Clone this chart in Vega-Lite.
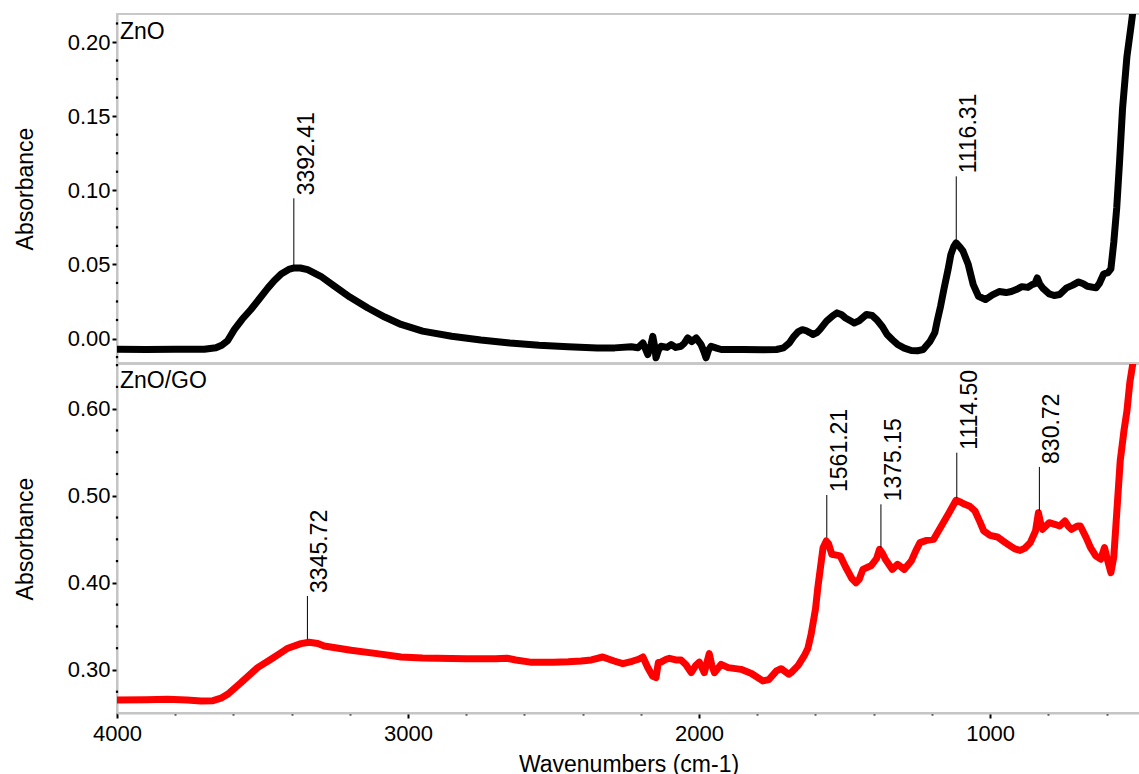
{
  "$schema": "https://vega.github.io/schema/vega-lite/v6.json",
  "padding": {"left": 13, "top": 13, "right": 0, "bottom": 0},
  "background": "white",
  "spacing": 1,
  "bounds": "flush",
  "config": {
    "font": "Liberation Sans",
    "view": {"stroke": "#c8c8c8", "strokeWidth": 2},
    "axis": {
      "domainColor": "#c4c4c4", "domainWidth": 2, "tickColor": "black", "tickWidth": 2,
      "labelColor": "black", "titleColor": "black", "labelFont": "Liberation Sans", "titleFont": "Liberation Sans",
      "labelFontSize": 22, "titleFontSize": 23, "titleFontWeight": "normal", "grid": false, "labelOverlap": false
    }
  },
  "datasets": {
    "zno": [
      {"wn": 4000, "v": -0.0072}, {"wn": 3900, "v": -0.0074}, {"wn": 3800, "v": -0.0073}, {"wn": 3700, "v": -0.0072},
      {"wn": 3660, "v": -0.0062}, {"wn": 3640, "v": -0.0045}, {"wn": 3620, "v": -0.0015}, {"wn": 3597, "v": 0.006},
      {"wn": 3570, "v": 0.013}, {"wn": 3540, "v": 0.0196}, {"wn": 3510, "v": 0.027}, {"wn": 3482, "v": 0.034},
      {"wn": 3460, "v": 0.039}, {"wn": 3436, "v": 0.0436}, {"wn": 3410, "v": 0.0466}, {"wn": 3391, "v": 0.0476},
      {"wn": 3370, "v": 0.0476}, {"wn": 3345, "v": 0.0465}, {"wn": 3300, "v": 0.042}, {"wn": 3253, "v": 0.0353},
      {"wn": 3200, "v": 0.028}, {"wn": 3138, "v": 0.0206}, {"wn": 3080, "v": 0.0145}, {"wn": 3024, "v": 0.0095},
      {"wn": 2950, "v": 0.005}, {"wn": 2850, "v": 0.0015}, {"wn": 2750, "v": -0.001}, {"wn": 2650, "v": -0.003},
      {"wn": 2550, "v": -0.0045}, {"wn": 2450, "v": -0.0055}, {"wn": 2350, "v": -0.0063}, {"wn": 2290, "v": -0.0063},
      {"wn": 2233, "v": -0.0055}, {"wn": 2210, "v": -0.0062}, {"wn": 2193, "v": -0.003}, {"wn": 2176, "v": -0.0108},
      {"wn": 2165, "v": -0.004}, {"wn": 2159, "v": 0.0015}, {"wn": 2152, "v": -0.006}, {"wn": 2148, "v": -0.013},
      {"wn": 2140, "v": -0.008}, {"wn": 2131, "v": -0.0052}, {"wn": 2110, "v": -0.006}, {"wn": 2096, "v": -0.0041},
      {"wn": 2080, "v": -0.006}, {"wn": 2062, "v": -0.0052}, {"wn": 2050, "v": -0.003}, {"wn": 2039, "v": 0.0004},
      {"wn": 2025, "v": -0.002}, {"wn": 2010, "v": 0.0004}, {"wn": 1993, "v": -0.0041}, {"wn": 1983, "v": -0.009},
      {"wn": 1976, "v": -0.013}, {"wn": 1968, "v": -0.008}, {"wn": 1959, "v": -0.0052}, {"wn": 1940, "v": -0.0065},
      {"wn": 1924, "v": -0.0074}, {"wn": 1850, "v": -0.0074}, {"wn": 1780, "v": -0.0075}, {"wn": 1734, "v": -0.0074},
      {"wn": 1710, "v": -0.0063}, {"wn": 1690, "v": -0.003}, {"wn": 1674, "v": 0.0015}, {"wn": 1660, "v": 0.0045},
      {"wn": 1645, "v": 0.006}, {"wn": 1633, "v": 0.0054}, {"wn": 1620, "v": 0.004}, {"wn": 1609, "v": 0.0027},
      {"wn": 1595, "v": 0.004}, {"wn": 1585, "v": 0.006}, {"wn": 1562, "v": 0.0117}, {"wn": 1540, "v": 0.0155},
      {"wn": 1526, "v": 0.0173}, {"wn": 1510, "v": 0.016}, {"wn": 1497, "v": 0.0139}, {"wn": 1480, "v": 0.012},
      {"wn": 1467, "v": 0.0105}, {"wn": 1450, "v": 0.012}, {"wn": 1425, "v": 0.0162}, {"wn": 1405, "v": 0.0155},
      {"wn": 1390, "v": 0.0128}, {"wn": 1370, "v": 0.008}, {"wn": 1354, "v": 0.0027}, {"wn": 1335, "v": -0.001},
      {"wn": 1318, "v": -0.004}, {"wn": 1295, "v": -0.0065}, {"wn": 1271, "v": -0.0081}, {"wn": 1250, "v": -0.0083},
      {"wn": 1230, "v": -0.0074}, {"wn": 1206, "v": -0.0018}, {"wn": 1190, "v": 0.004}, {"wn": 1182, "v": 0.0117},
      {"wn": 1170, "v": 0.022}, {"wn": 1158, "v": 0.034}, {"wn": 1145, "v": 0.046}, {"wn": 1135, "v": 0.0566},
      {"wn": 1125, "v": 0.062}, {"wn": 1117, "v": 0.0645}, {"wn": 1105, "v": 0.062}, {"wn": 1093, "v": 0.0589},
      {"wn": 1075, "v": 0.0499}, {"wn": 1058, "v": 0.0364}, {"wn": 1040, "v": 0.0285}, {"wn": 1016, "v": 0.0263},
      {"wn": 992, "v": 0.0295}, {"wn": 969, "v": 0.0317}, {"wn": 945, "v": 0.031}, {"wn": 927, "v": 0.0317},
      {"wn": 910, "v": 0.033}, {"wn": 891, "v": 0.035}, {"wn": 870, "v": 0.0345}, {"wn": 856, "v": 0.0364},
      {"wn": 846, "v": 0.037}, {"wn": 838, "v": 0.0409}, {"wn": 830, "v": 0.037}, {"wn": 820, "v": 0.0342},
      {"wn": 797, "v": 0.0301}, {"wn": 780, "v": 0.029}, {"wn": 761, "v": 0.0297}, {"wn": 737, "v": 0.0342},
      {"wn": 716, "v": 0.036}, {"wn": 696, "v": 0.0382}, {"wn": 680, "v": 0.037}, {"wn": 666, "v": 0.0353},
      {"wn": 636, "v": 0.0342}, {"wn": 625, "v": 0.037}, {"wn": 610, "v": 0.0435}, {"wn": 595, "v": 0.0445},
      {"wn": 585, "v": 0.047}, {"wn": 575, "v": 0.065}, {"wn": 565, "v": 0.088}, {"wn": 555, "v": 0.12},
      {"wn": 545, "v": 0.155}, {"wn": 530, "v": 0.19}, {"wn": 515, "v": 0.212}, {"wn": 500, "v": 0.235}
    ],
    "zno_go": [
      {"wn": 4000, "v": 0.2655}, {"wn": 3900, "v": 0.2658}, {"wn": 3826, "v": 0.2663}, {"wn": 3760, "v": 0.2655},
      {"wn": 3711, "v": 0.2644}, {"wn": 3670, "v": 0.2648}, {"wn": 3640, "v": 0.268}, {"wn": 3620, "v": 0.2721},
      {"wn": 3574, "v": 0.2854}, {"wn": 3517, "v": 0.3027}, {"wn": 3471, "v": 0.3123}, {"wn": 3440, "v": 0.319},
      {"wn": 3413, "v": 0.325}, {"wn": 3368, "v": 0.3302}, {"wn": 3340, "v": 0.3318}, {"wn": 3310, "v": 0.3305},
      {"wn": 3288, "v": 0.3276}, {"wn": 3250, "v": 0.3255}, {"wn": 3196, "v": 0.3226}, {"wn": 3100, "v": 0.3185},
      {"wn": 3024, "v": 0.3149}, {"wn": 2950, "v": 0.3138}, {"wn": 2900, "v": 0.3135}, {"wn": 2800, "v": 0.3128},
      {"wn": 2700, "v": 0.3128}, {"wn": 2660, "v": 0.3135}, {"wn": 2630, "v": 0.3115}, {"wn": 2580, "v": 0.309},
      {"wn": 2500, "v": 0.309}, {"wn": 2450, "v": 0.3095}, {"wn": 2405, "v": 0.3103}, {"wn": 2370, "v": 0.3115},
      {"wn": 2331, "v": 0.3149}, {"wn": 2292, "v": 0.3103}, {"wn": 2262, "v": 0.3072}, {"wn": 2230, "v": 0.31},
      {"wn": 2208, "v": 0.3123}, {"wn": 2193, "v": 0.3149}, {"wn": 2176, "v": 0.3026}, {"wn": 2160, "v": 0.2931},
      {"wn": 2148, "v": 0.2912}, {"wn": 2140, "v": 0.3085}, {"wn": 2131, "v": 0.309}, {"wn": 2113, "v": 0.3123},
      {"wn": 2102, "v": 0.3134}, {"wn": 2080, "v": 0.3115}, {"wn": 2062, "v": 0.3115}, {"wn": 2045, "v": 0.306},
      {"wn": 2027, "v": 0.2969}, {"wn": 2012, "v": 0.305}, {"wn": 1999, "v": 0.309}, {"wn": 1982, "v": 0.2969},
      {"wn": 1972, "v": 0.31}, {"wn": 1965, "v": 0.3187}, {"wn": 1956, "v": 0.305}, {"wn": 1947, "v": 0.2969},
      {"wn": 1924, "v": 0.3065}, {"wn": 1900, "v": 0.3027}, {"wn": 1856, "v": 0.3007}, {"wn": 1820, "v": 0.296},
      {"wn": 1781, "v": 0.2874}, {"wn": 1760, "v": 0.289}, {"wn": 1734, "v": 0.2989}, {"wn": 1718, "v": 0.3015},
      {"wn": 1692, "v": 0.2951}, {"wn": 1684, "v": 0.2969}, {"wn": 1660, "v": 0.305}, {"wn": 1639, "v": 0.3161},
      {"wn": 1626, "v": 0.325}, {"wn": 1615, "v": 0.341}, {"wn": 1600, "v": 0.37}, {"wn": 1592, "v": 0.3945},
      {"wn": 1574, "v": 0.4404}, {"wn": 1563, "v": 0.4481}, {"wn": 1555, "v": 0.445}, {"wn": 1544, "v": 0.4328},
      {"wn": 1515, "v": 0.431}, {"wn": 1497, "v": 0.4185}, {"wn": 1475, "v": 0.405}, {"wn": 1461, "v": 0.4002},
      {"wn": 1450, "v": 0.404}, {"wn": 1437, "v": 0.4155}, {"wn": 1408, "v": 0.42}, {"wn": 1390, "v": 0.428},
      {"wn": 1380, "v": 0.4386}, {"wn": 1370, "v": 0.434}, {"wn": 1360, "v": 0.427}, {"wn": 1336, "v": 0.4155},
      {"wn": 1318, "v": 0.4213}, {"wn": 1295, "v": 0.4155}, {"wn": 1271, "v": 0.425}, {"wn": 1255, "v": 0.437},
      {"wn": 1241, "v": 0.4462}, {"wn": 1218, "v": 0.4488}, {"wn": 1194, "v": 0.45}, {"wn": 1164, "v": 0.4672},
      {"wn": 1141, "v": 0.4806}, {"wn": 1117, "v": 0.4948}, {"wn": 1100, "v": 0.4925}, {"wn": 1087, "v": 0.4902},
      {"wn": 1070, "v": 0.488}, {"wn": 1052, "v": 0.4825}, {"wn": 1035, "v": 0.47}, {"wn": 1022, "v": 0.4596},
      {"wn": 1000, "v": 0.4545}, {"wn": 975, "v": 0.4527}, {"wn": 955, "v": 0.448}, {"wn": 939, "v": 0.4443},
      {"wn": 915, "v": 0.439}, {"wn": 897, "v": 0.4373}, {"wn": 880, "v": 0.44}, {"wn": 862, "v": 0.4462},
      {"wn": 844, "v": 0.4596}, {"wn": 834, "v": 0.4806}, {"wn": 826, "v": 0.468}, {"wn": 820, "v": 0.4615},
      {"wn": 797, "v": 0.4691}, {"wn": 775, "v": 0.467}, {"wn": 761, "v": 0.4653}, {"wn": 743, "v": 0.471},
      {"wn": 730, "v": 0.4645}, {"wn": 720, "v": 0.4615}, {"wn": 700, "v": 0.4653}, {"wn": 690, "v": 0.4653},
      {"wn": 670, "v": 0.4519}, {"wn": 655, "v": 0.4404}, {"wn": 637, "v": 0.431}, {"wn": 620, "v": 0.4272},
      {"wn": 607, "v": 0.4404}, {"wn": 598, "v": 0.428}, {"wn": 585, "v": 0.4117}, {"wn": 575, "v": 0.43},
      {"wn": 565, "v": 0.48}, {"wn": 553, "v": 0.54}, {"wn": 540, "v": 0.575}, {"wn": 530, "v": 0.597},
      {"wn": 520, "v": 0.63}, {"wn": 510, "v": 0.651}, {"wn": 500, "v": 0.68}
    ],
    "zno_peaks": [
      {"wn": 3392.41, "v": 0.0495, "v2": 0.0946, "label": "3392.41"},
      {"wn": 1116.31, "v": 0.0658, "v2": 0.1094, "label": "1116.31"}
    ],
    "zno_go_peaks": [
      {"wn": 3345.72, "v": 0.3352, "v2": 0.385, "label": "3345.72"},
      {"wn": 1561.21, "v": 0.4519, "v2": 0.5009, "label": "1561.21"},
      {"wn": 1375.15, "v": 0.4404, "v2": 0.4902, "label": "1375.15"},
      {"wn": 1114.5, "v": 0.4978, "v2": 0.5495, "label": "1114.50"},
      {"wn": 830.72, "v": 0.4825, "v2": 0.5331, "label": "830.72"}
    ],
    "zno_name": [{"wn": 3990, "v": 0.2065, "label": "ZnO"}],
    "zno_go_name": [{"wn": 3990, "v": 0.6318, "label": "ZnO/GO"}],
    "zno_minor": [
      {"v": -0.0125}, {"v": 0.0125}, {"v": 0.025}, {"v": 0.0375}, {"v": 0.0625}, {"v": 0.075}, {"v": 0.0875},
      {"v": 0.1125}, {"v": 0.125}, {"v": 0.1375}, {"v": 0.1625}, {"v": 0.175}, {"v": 0.1875}, {"v": 0.2125}
    ],
    "zno_go_minor": [
      {"v": 0.275}, {"v": 0.325}, {"v": 0.35}, {"v": 0.375}, {"v": 0.425}, {"v": 0.45}, {"v": 0.475},
      {"v": 0.525}, {"v": 0.55}, {"v": 0.575}, {"v": 0.625}, {"v": 0.65}
    ]
  },
  "vconcat": [
    {
      "width": 1023,
      "height": 349,
      "layer": [
        {
          "data": {"name": "zno"},
          "mark": {"type": "line", "color": "black", "strokeWidth": 7, "clip": true, "strokeJoin": "round", "strokeCap": "round"},
          "encoding": {
            "x": {"field": "wn", "type": "quantitative", "scale": {"domain": [4000, 485], "nice": false, "zero": false}, "axis": null},
            "y": {
              "field": "v", "type": "quantitative",
              "scale": {"domain": [-0.0165, 0.2189], "nice": false, "zero": false},
              "axis": {
                "title": "Absorbance",
                "values": [0, 0.05, 0.1, 0.15, 0.2],
                "format": ".2f",
                "tickSize": 5,
                "labelPadding": 2,
                "titlePadding": 30
              }
            }
          }
        },
        {
          "data": {"name": "zno_minor"},
          "mark": {"type": "square", "size": 5, "color": "black", "opacity": 1, "filled": true},
          "encoding": {
            "x": {"datum": 4000, "type": "quantitative", "scale": {"domain": [4000, 485], "nice": false, "zero": false}},
            "y": {"field": "v", "type": "quantitative", "scale": {"domain": [-0.0165, 0.2189], "nice": false, "zero": false}}
          }
        },
        {
          "data": {"name": "zno_peaks"},
          "mark": {"type": "rule", "color": "black", "strokeWidth": 1},
          "encoding": {
            "x": {"field": "wn", "type": "quantitative", "scale": {"domain": [4000, 485], "nice": false, "zero": false}},
            "y": {"field": "v", "type": "quantitative", "scale": {"domain": [-0.0165, 0.2189], "nice": false, "zero": false}},
            "y2": {"field": "v2"}
          }
        },
        {
          "data": {"name": "zno_peaks"},
          "mark": {"type": "text", "angle": 270, "align": "left", "baseline": "top", "dx": 3, "dy": 2, "fontSize": 23, "color": "black"},
          "encoding": {
            "x": {"field": "wn", "type": "quantitative", "scale": {"domain": [4000, 485], "nice": false, "zero": false}},
            "y": {"field": "v2", "type": "quantitative", "scale": {"domain": [-0.0165, 0.2189], "nice": false, "zero": false}},
            "text": {"field": "label"}
          }
        },
        {
          "data": {"name": "zno_name"},
          "mark": {"type": "text", "align": "left", "baseline": "middle", "fontSize": 23, "color": "black"},
          "encoding": {
            "x": {"field": "wn", "type": "quantitative", "scale": {"domain": [4000, 485], "nice": false, "zero": false}},
            "y": {"field": "v", "type": "quantitative", "scale": {"domain": [-0.0165, 0.2189], "nice": false, "zero": false}},
            "text": {"field": "label"}
          }
        }
      ]
    },
    {
      "width": 1023,
      "height": 349,
      "layer": [
        {
          "data": {"name": "zno_go"},
          "mark": {"type": "line", "color": "#ff0000", "strokeWidth": 7, "clip": true, "strokeJoin": "round", "strokeCap": "round"},
          "encoding": {
            "x": {
              "field": "wn", "type": "quantitative",
              "scale": {"domain": [4000, 485], "nice": false, "zero": false},
              "axis": {
                "title": "Wavenumbers (cm-1)",
                "values": [4000, 3800, 3600, 3400, 3200, 3000, 2800, 2600, 2400, 2200, 2000, 1800, 1600, 1400, 1200, 1000, 800, 600],
                "labelExpr": "datum.value % 1000 == 0 ? format(datum.value, 'd') : ''",
                "tickSize": {"condition": {"test": "datum.value % 1000 == 0", "value": 5}, "value": 2},
                "labelPadding": 5,
                "titlePadding": 9,
                "labelFlush": false
              }
            },
            "y": {
              "field": "v", "type": "quantitative",
              "scale": {"domain": [0.2506, 0.6513], "nice": false, "zero": false},
              "axis": {
                "title": "Absorbance",
                "values": [0.3, 0.4, 0.5, 0.6],
                "format": ".2f",
                "tickSize": 5,
                "labelPadding": 2,
                "titlePadding": 30
              }
            }
          }
        },
        {
          "data": {"name": "zno_go_minor"},
          "mark": {"type": "square", "size": 5, "color": "black", "opacity": 1, "filled": true},
          "encoding": {
            "x": {"datum": 4000, "type": "quantitative", "scale": {"domain": [4000, 485], "nice": false, "zero": false}},
            "y": {"field": "v", "type": "quantitative", "scale": {"domain": [0.2506, 0.6513], "nice": false, "zero": false}}
          }
        },
        {
          "data": {"name": "zno_go_peaks"},
          "mark": {"type": "rule", "color": "black", "strokeWidth": 1},
          "encoding": {
            "x": {"field": "wn", "type": "quantitative", "scale": {"domain": [4000, 485], "nice": false, "zero": false}},
            "y": {"field": "v", "type": "quantitative", "scale": {"domain": [0.2506, 0.6513], "nice": false, "zero": false}},
            "y2": {"field": "v2"}
          }
        },
        {
          "data": {"name": "zno_go_peaks"},
          "mark": {"type": "text", "angle": 270, "align": "left", "baseline": "top", "dx": 3, "dy": 2, "fontSize": 23, "color": "black"},
          "encoding": {
            "x": {"field": "wn", "type": "quantitative", "scale": {"domain": [4000, 485], "nice": false, "zero": false}},
            "y": {"field": "v2", "type": "quantitative", "scale": {"domain": [0.2506, 0.6513], "nice": false, "zero": false}},
            "text": {"field": "label"}
          }
        },
        {
          "data": {"name": "zno_go_name"},
          "mark": {"type": "text", "align": "left", "baseline": "middle", "fontSize": 23, "color": "black"},
          "encoding": {
            "x": {"field": "wn", "type": "quantitative", "scale": {"domain": [4000, 485], "nice": false, "zero": false}},
            "y": {"field": "v", "type": "quantitative", "scale": {"domain": [0.2506, 0.6513], "nice": false, "zero": false}},
            "text": {"field": "label"}
          }
        }
      ]
    }
  ]
}
